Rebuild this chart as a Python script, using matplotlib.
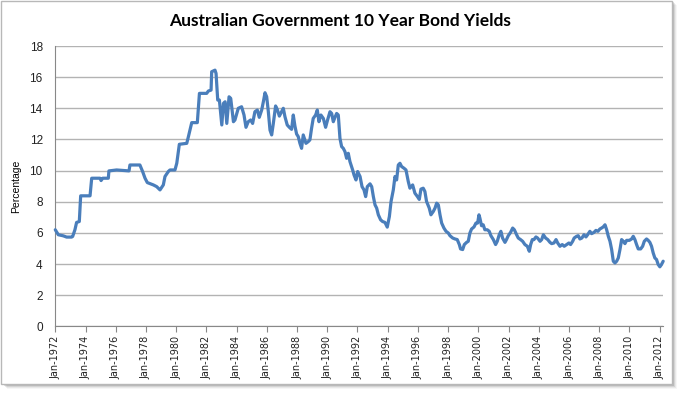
import matplotlib
matplotlib.use("Agg")
import matplotlib.pyplot as plt
from matplotlib.patches import Rectangle
import numpy as np

#%% DATA (year fraction vs yield %)
years = [
    1972.00, 1972.20, 1972.53, 1972.75, 1973.08, 1973.15, 1973.30, 1973.41, 1973.59, 1973.68,
    1974.30, 1974.41, 1974.96, 1975.03, 1975.14, 1975.51, 1975.55, 1976.06, 1976.88, 1976.94,
    1977.60, 1977.78, 1977.94, 1978.09, 1978.49, 1978.71, 1978.93, 1979.15, 1979.26, 1979.48,
    1979.59, 1979.92, 1980.04, 1980.21, 1980.70, 1980.81, 1981.03, 1981.40, 1981.54, 1982.02,
    1982.13, 1982.31, 1982.35, 1982.57, 1982.64, 1982.75, 1982.86, 1983.02, 1983.13, 1983.24,
    1983.35, 1983.50, 1983.61, 1983.79, 1983.89, 1984.11, 1984.33, 1984.49, 1984.62, 1984.77,
    1984.93, 1985.06, 1985.21, 1985.37, 1985.50, 1985.66, 1985.77, 1985.88, 1985.99, 1986.10,
    1986.21, 1986.32, 1986.43, 1986.58, 1986.69, 1986.83, 1986.98, 1987.09, 1987.20, 1987.35,
    1987.49, 1987.64, 1987.75, 1987.86, 1987.97, 1988.08, 1988.19, 1988.30, 1988.41, 1988.59,
    1988.74, 1988.85, 1988.96, 1989.07, 1989.23, 1989.34, 1989.45, 1989.58, 1989.74, 1989.89,
    1990.02, 1990.18, 1990.29, 1990.40, 1990.51, 1990.62, 1990.73, 1990.84, 1990.95, 1991.06,
    1991.17, 1991.28, 1991.39, 1991.50, 1991.68, 1991.77, 1991.90, 1992.01, 1992.17, 1992.30,
    1992.43, 1992.54, 1992.65, 1992.83, 1992.94, 1993.05, 1993.16, 1993.27, 1993.38, 1993.53,
    1993.66, 1993.82, 1993.97, 1994.11, 1994.22, 1994.37, 1994.48, 1994.59, 1994.70, 1994.81,
    1994.92, 1995.08, 1995.21, 1995.36, 1995.47, 1995.65, 1995.80, 1995.96, 1996.09, 1996.20,
    1996.35, 1996.46, 1996.57, 1996.75, 1996.86, 1997.02, 1997.13, 1997.24, 1997.35, 1997.46,
    1997.57, 1997.72, 1997.86, 1998.01, 1998.12, 1998.30, 1998.45, 1998.60, 1998.74, 1998.82,
    1998.96, 1999.07, 1999.22, 1999.33, 1999.44, 1999.55, 1999.71, 1999.84, 1999.95, 2000.04,
    2000.10, 2000.21, 2000.32, 2000.43, 2000.59, 2000.72, 2000.83, 2000.99, 2001.14, 2001.25,
    2001.38, 2001.49, 2001.60, 2001.76, 2001.86, 2001.98, 2002.13, 2002.27, 2002.38, 2002.53,
    2002.64, 2002.79, 2002.93, 2003.08, 2003.24, 2003.37, 2003.46, 2003.57, 2003.68, 2003.81,
    2003.92, 2004.08, 2004.19, 2004.30, 2004.45, 2004.59, 2004.74, 2004.85, 2005.00, 2005.14,
    2005.25, 2005.40, 2005.55, 2005.68, 2005.84, 2005.99, 2006.10, 2006.24, 2006.34, 2006.50,
    2006.61, 2006.72, 2006.85, 2006.99, 2007.12, 2007.23, 2007.38, 2007.49, 2007.65, 2007.78,
    2007.91, 2008.04, 2008.15, 2008.26, 2008.38, 2008.49, 2008.60, 2008.71, 2008.82, 2008.93,
    2009.04, 2009.15, 2009.26, 2009.37, 2009.48, 2009.59, 2009.70, 2009.81, 2009.99, 2010.14,
    2010.25, 2010.36, 2010.47, 2010.58, 2010.74, 2010.87, 2010.98, 2011.13, 2011.24, 2011.35,
    2011.46, 2011.57, 2011.68, 2011.79, 2011.90, 2012.01, 2012.12, 2012.23,
]
yields = [
    6.20, 5.88, 5.81, 5.73, 5.73, 5.77, 6.20, 6.67, 6.73, 8.38,
    8.38, 9.51, 9.51, 9.36, 9.51, 9.51, 9.98, 10.04, 9.98, 10.36,
    10.36, 9.94, 9.51, 9.23, 9.08, 8.97, 8.76, 9.08, 9.62, 9.94,
    10.04, 10.04, 10.47, 11.69, 11.75, 12.18, 13.08, 13.08, 14.96, 14.96,
    15.11, 15.17, 16.35, 16.45, 16.24, 14.53, 14.53, 12.93, 14.32, 14.42,
    13.03, 14.74, 14.64, 13.14, 13.25, 14.00, 14.10, 13.57, 12.78, 13.14,
    13.25, 13.03, 13.78, 13.89, 13.42, 13.89, 14.42, 15.00, 14.74, 13.78,
    12.60, 12.29, 13.03, 14.15, 13.93, 13.50, 13.78, 14.00, 13.46, 12.93,
    12.78, 12.65, 13.57, 12.86, 12.35, 12.18, 11.75, 11.43, 12.29, 11.75,
    11.86, 11.97, 12.71, 13.35, 13.57, 13.89, 13.14, 13.57, 13.35, 12.78,
    13.25, 13.78, 13.67, 13.14, 13.42, 13.67, 13.57, 12.07, 11.54, 11.43,
    11.22, 10.79, 11.11, 10.58, 10.04, 9.72, 9.40, 9.94, 9.62, 8.97,
    8.76, 8.33, 8.97, 9.15, 8.97, 8.33, 7.80, 7.59, 7.16, 6.84,
    6.73, 6.67, 6.37, 7.05, 8.01, 8.76, 9.62, 9.40, 10.36, 10.47,
    10.26, 10.15, 10.04, 9.30, 8.87, 9.08, 8.55, 8.34, 8.15, 8.81,
    8.87, 8.66, 8.02, 7.59, 7.16, 7.38, 7.59, 7.91, 7.80, 7.16,
    6.63, 6.31, 6.10, 5.99, 5.82, 5.67, 5.61, 5.57, 5.25, 4.97,
    4.93, 5.25, 5.39, 5.46, 5.99, 6.25, 6.38, 6.63, 6.63, 7.16,
    6.95, 6.46, 6.52, 6.20, 6.20, 6.10, 5.82, 5.57, 5.25, 5.46,
    5.88, 6.10, 5.67, 5.39, 5.57, 5.82, 6.03, 6.31, 6.20, 5.88,
    5.67, 5.57, 5.46, 5.25, 5.14, 4.82, 5.25, 5.57, 5.57, 5.74,
    5.67, 5.46, 5.57, 5.88, 5.67, 5.57, 5.39, 5.31, 5.35, 5.57,
    5.35, 5.14, 5.25, 5.14, 5.25, 5.35, 5.25, 5.46, 5.67, 5.78,
    5.82, 5.61, 5.67, 5.88, 5.74, 5.88, 6.10, 5.95, 6.03, 6.16,
    6.10, 6.25, 6.31, 6.38, 6.52, 6.20, 5.78, 5.46, 4.93, 4.18,
    4.07, 4.18, 4.39, 4.93, 5.57, 5.46, 5.31, 5.52, 5.52, 5.61,
    5.78, 5.57, 5.25, 4.97, 4.97, 5.14, 5.46, 5.61, 5.52, 5.39,
    5.14, 4.71, 4.39, 4.29, 3.97, 3.82, 3.97, 4.18,
]
tick_years = list(range(1972, 2013, 2))
tick_labels = ["Jan-%d" % y for y in tick_years]
y_ticks = list(range(0, 19, 2))

#%% FIGURE
fig = plt.figure(figsize=(6.8, 3.94), dpi=100)

#outer chart frame with a little drop shadow (kept behind the axes)
for i, a in enumerate([0.10, 0.16, 0.24, 0.34]):
    off = (4 - i) / 680
    fig.patches.append(Rectangle((0.004 + off, 0.022 - off * 680 / 394), 0.986, 0.975,
                                 transform=fig.transFigure, facecolor="#000000",
                                 alpha=a * 0.35, edgecolor="none", zorder=-3))
fig.patches.append(Rectangle((0.002, 0.025), 0.986, 0.972, transform=fig.transFigure,
                             facecolor="white", edgecolor="#b8b8b8", lw=1.0, zorder=-2))

ax = fig.add_axes([0.0813, 0.1718, 0.8944, 0.7114])
ax.set_zorder(1)
ax.set_facecolor("none")
ax.plot(years, yields, color="#4a7ebb", lw=2.3, solid_joinstyle="round",
        solid_capstyle="round", zorder=3, clip_on=False)

ax.set_xlim(1972.0, 2012.25)
ax.set_ylim(0, 18)
ax.set_yticks(y_ticks)
ax.set_xticks(tick_years)
ax.set_xticklabels(tick_labels, rotation=90, fontsize=7, family="DejaVu Sans", color="#222222")
ax.tick_params(axis="x", length=4, width=0.8, color="#888888", pad=3, direction="out")
ax.tick_params(axis="y", length=0, pad=9, labelsize=8.5, labelcolor="#222222")
for lab in ax.get_yticklabels():
    lab.set_family("Liberation Sans")

ax.grid(axis="y", color="#b3b3b3", lw=1.0)
ax.set_axisbelow(True)
for s in ["top", "right"]:
    ax.spines[s].set_visible(False)
ax.spines["left"].set_color("#888888")
ax.spines["bottom"].set_color("#888888")

ax.set_ylabel("Percentage", fontsize=7.5, family="Liberation Sans", labelpad=6)
fig.text(0.5, 0.947, "Australian Government 10 Year Bond Yields", ha="center", va="center",
         fontsize=12.5, fontweight="bold", family="Lato")

fig.savefig("out.png", dpi=100)
